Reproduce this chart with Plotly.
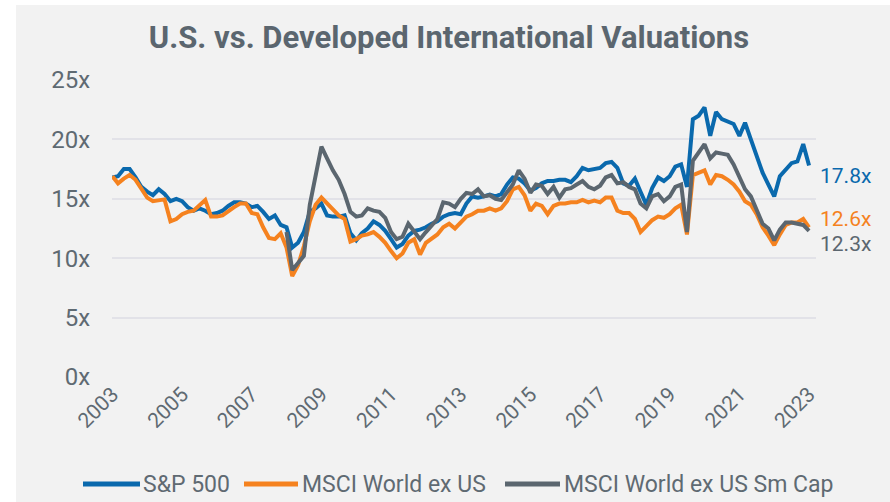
import plotly.graph_objects as go
import pandas as pd

# ---------------- data (bi-monthly readings, forward P/E multiple) ----------------
dates = pd.date_range("2003-01-01", periods=121, freq="2MS")

sp500 = [
    16.8, 16.9, 17.5, 17.5, 16.8, 16.0, 15.6, 15.3, 15.8, 15.4,
    14.8, 15.0, 14.8, 14.3, 14.0, 14.2, 14.0, 13.7, 13.8, 14.0,
    14.4, 14.7, 14.7, 14.6, 14.3, 14.4, 13.9, 13.3, 13.6, 12.8,
    12.6, 10.9, 11.3, 12.2, 13.9, 14.2, 14.6, 13.6, 13.5, 13.5,
    13.6, 12.1, 11.5, 12.1, 12.5, 13.1, 12.8, 12.3, 11.6, 10.9,
    11.2, 11.9, 12.3, 12.4, 12.6, 12.9, 13.1, 13.5, 13.7, 13.8,
    13.7, 14.6, 15.2, 15.1, 15.2, 15.35, 15.2, 15.4, 16.2, 16.8,
    16.7, 16.3, 15.7, 15.9, 16.3, 16.5, 16.5, 16.6, 16.6, 16.4,
    16.9, 17.6, 17.4, 17.5, 17.6, 18.0, 18.1, 17.6, 16.3, 16.1,
    16.7, 15.6, 14.5, 15.9, 16.8, 16.5, 16.9, 17.7, 17.9, 16.0,
    21.7, 22.0, 22.7, 20.3, 22.3, 21.7, 21.5, 21.3, 20.3, 21.4,
    20.0, 18.6, 17.2, 16.2, 15.2, 16.9, 17.5, 18.0, 18.15, 19.6, 17.8,
]

msci_world_ex_us = [
    16.9, 16.3, 16.7, 17.0, 16.6, 15.8, 15.1, 14.8, 14.9, 14.95,
    13.1, 13.3, 13.7, 13.9, 14.0, 14.5, 14.9, 13.5, 13.5, 13.6,
    14.0, 14.3, 14.6, 14.6, 13.8, 13.7, 12.6, 11.7, 11.6, 12.1,
    10.9, 8.5, 9.4, 11.0, 13.1, 14.5, 15.1, 14.6, 14.2, 13.6,
    13.3, 11.4, 11.6, 11.9, 12.0, 12.2, 11.8, 11.3, 10.6, 10.0,
    10.4, 11.3, 11.6, 10.3, 11.3, 11.6, 12.0, 12.6, 12.9, 12.5,
    13.0, 13.5, 13.7, 14.0, 14.0, 14.2, 14.0, 14.2, 14.8, 15.8,
    16.0, 15.3, 14.0, 14.6, 14.4, 13.7, 14.4, 14.6, 14.6, 14.7,
    14.7, 14.9, 14.7, 14.85, 14.7, 15.1, 15.1, 14.0, 13.8, 13.8,
    13.3, 12.2, 12.7, 13.2, 13.5, 13.4, 13.7, 14.2, 14.5, 12.0,
    17.0, 17.2, 17.4, 16.2, 17.0, 16.9, 16.6, 16.2, 15.6, 14.8,
    14.5, 13.7, 12.6, 11.9, 11.1, 12.0, 12.8, 13.0, 13.0, 13.3, 12.6,
]

msci_world_ex_us_sm_cap = [None] * 30 + [
    12.2, 9.0, 9.6, 10.2, 14.5, 17.1, 19.4, 18.4, 17.4, 16.6,
    15.4, 13.9, 13.5, 13.6, 14.2, 14.0, 13.9, 13.4, 12.2, 11.6,
    11.8, 12.9, 12.3, 11.6, 12.2, 12.7, 13.3, 14.7, 14.6, 14.3,
    15.0, 15.5, 15.4, 15.8, 15.2, 15.3, 15.0, 14.9, 15.5, 16.2,
    17.4, 16.7, 15.5, 16.2, 16.1, 15.4, 16.0, 15.1, 15.8, 15.9,
    16.2, 16.5, 16.0, 15.8, 16.1, 16.8, 17.0, 16.3, 16.4, 16.0,
    15.8, 14.6, 14.2, 15.2, 15.4, 14.8, 15.2, 16.0, 16.2, 12.2,
    18.2, 18.9, 19.6, 18.4, 18.9, 18.8, 18.7, 17.9, 16.9, 15.8,
    15.2, 14.0, 12.9, 12.5, 11.5, 12.4, 13.0, 13.0, 12.9, 12.8, 12.3,
]

series_names = ["S&P 500", "MSCI World ex US", "MSCI World ex US Sm Cap"]
end_labels = ["17.8x", "12.6x", "12.3x"]
y_tick_vals = [0, 5, 10, 15, 20, 25]
y_tick_text = ["0x", "5x", "10x", "15x", "20x", "25x"]
x_tick_years = list(range(2003, 2024, 2))

# ---------------- styling ----------------
COLORS = ["#0a69ad", "#f5821f", "#5b666f"]
TEXT = "#5f6a72"
BG = "#f2f2f2"
FONT = "Roboto"

W, H = 890, 502
L, R, T, B = 112, 74, 80, 125
pw, ph = W - L - R, H - T - B


def px_x(p):
    return (p - L) / pw


def px_y(p):
    return (H - B - p) / ph


fig = go.Figure()
for name, vals, col in zip(series_names,
                           [sp500, msci_world_ex_us, msci_world_ex_us_sm_cap],
                           COLORS):
    fig.add_trace(go.Scatter(x=dates, y=vals, mode="lines", name=name,
                             line=dict(color=col, width=4),
                             connectgaps=False, showlegend=False))

# grey card background (white sliver on top/left)
fig.add_shape(type="rect", xref="paper", yref="paper",
              x0=px_x(16), x1=px_x(W + 5), y0=px_y(H + 5), y1=px_y(5),
              fillcolor=BG, line=dict(width=0), layer="below")

# end-value labels (vertical placement in pixels)
end_px = [176, 219, 244]
for txt, py, col in zip(end_labels, end_px, COLORS):
    fig.add_annotation(x=px_x(818), xref="paper", y=px_y(py), yref="paper",
                       text=txt, showarrow=False, xanchor="left",
                       yanchor="middle",
                       font=dict(family=FONT, size=21, color=col))

# manual legend
leg_y = px_y(484)
leg = [(83, 140, 141), (244, 298, 300), (505, 560, 562)]
for (x0, x1, xt), name, col in zip(leg, series_names, COLORS):
    fig.add_shape(type="line", xref="paper", yref="paper",
                  x0=px_x(x0), x1=px_x(x1), y0=leg_y, y1=leg_y,
                  line=dict(color=col, width=5))
    fig.add_annotation(x=px_x(xt), xref="paper", y=leg_y, yref="paper",
                       text=name, showarrow=False, xanchor="left",
                       yanchor="middle",
                       font=dict(family=FONT, size=23, color=TEXT))

fig.update_layout(
    width=W, height=H,
    margin=dict(l=L, r=R, t=T, b=B),
    paper_bgcolor="white", plot_bgcolor=BG,
    title=dict(text="<b>U.S. vs. Developed International Valuations</b>",
               x=(449 - L) / pw, xref="paper", xanchor="center",
               y=1 - 37 / H, yanchor="middle",
               font=dict(family=FONT, size=31, color="#5b666f")),
    font=dict(family=FONT, color=TEXT),
    showlegend=False,
)

fig.update_xaxes(
    type="date",
    range=["2002-12-28", "2023-03-15"],
    tickvals=[f"{y}-01-01" for y in x_tick_years],
    ticktext=[str(y) for y in x_tick_years],
    tickangle=-45,
    tickfont=dict(family=FONT, size=21, color=TEXT),
    showgrid=False, zeroline=False, showline=False,
    ticks="", ticklen=0,
)
fig.update_yaxes(
    range=[0, 25],
    tickvals=y_tick_vals, ticktext=y_tick_text,
    tickfont=dict(family=FONT, size=24, color=TEXT),
    showgrid=True, gridcolor="#e2e2e8", gridwidth=2,
    zeroline=False, showline=False,
    ticks="outside", ticklen=16, tickcolor="rgba(0,0,0,0)",
)

fig.write_html("out.html",
               config={"displayModeBar": False},
               post_script="document.body.style.margin='0';"
                           "document.body.style.overflow='hidden';")
